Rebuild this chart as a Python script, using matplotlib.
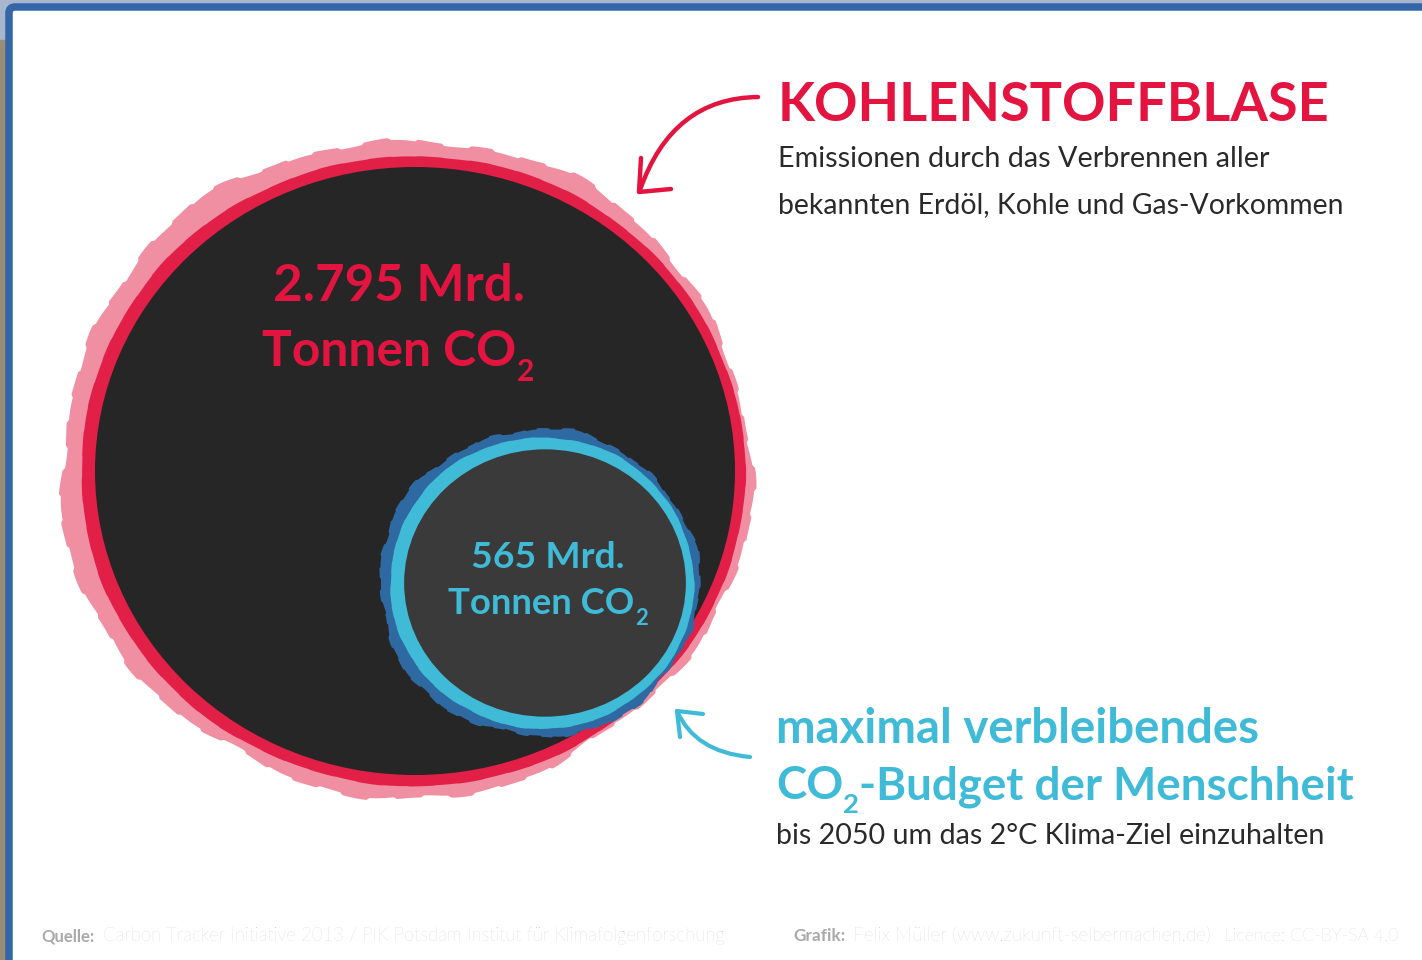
import numpy as np
import matplotlib
matplotlib.use("Agg")
import matplotlib.pyplot as plt
from matplotlib.patches import Ellipse, Polygon, Rectangle, FancyBboxPatch, PathPatch
from matplotlib.path import Path

plt.rcParams['font.family'] = ['Lato', 'DejaVu Sans']

# ---- data ----
values = [2795, 565]                      # Mrd. Tonnen CO2
value_labels = ["2.795 Mrd.", "565 Mrd."]
unit_main, unit_sub = "Tonnen CO", "2"
title = "KOHLENSTOFFBLASE"
subtitle_lines = ["Emissionen durch das Verbrennen aller",
                  "bekannten Erdöl, Kohle und Gas-Vorkommen"]
budget_line1 = "maximal verbleibendes"
budget_line2 = ["CO", "2", "-Budget der Menschheit"]
budget_sub = "bis 2050 um das 2°C Klima-Ziel einzuhalten"
source_head, source_text = "Quelle:", "Carbon Tracker Initiative 2013 / PIK Potsdam Institut für Klimafolgenforschung"
credit_head, credit_text = "Grafik:", "Felix Müller (www.zukunft-selbermachen.de)"
licence_text = "Licence: CC-BY-SA 4.0"

# ---- colours ----
RED = "#e3143f"
PINK = "#ef8fa1"
RING_RED = "#e11f47"
BLACK = "#262626"
GREY = "#3a3a3a"
CYAN = "#3fbad7"
BLUE = "#2e69a2"
DARK = "#2a2a2a"

W, H = 1422, 960
fig = plt.figure(figsize=(W / 100, H / 100), dpi=100)
ax = fig.add_axes([0, 0, 1, 1])
ax.set_xlim(0, W)
ax.set_ylim(H, 0)
ax.set_aspect('auto')
ax.axis('off')

# ---- frame ----
ax.add_patch(Rectangle((0, 0), W, H, color="#a7b6cc", zorder=0))
ax.add_patch(Rectangle((0, 40), 6, H, color="#9a8e78", zorder=0))
ax.add_patch(FancyBboxPatch((9, 7), W + 40, H + 40, boxstyle="round,pad=0,rounding_size=6",
                            facecolor="white", edgecolor="#3465a8", linewidth=5.4, zorder=1))

renderer = fig.canvas.get_renderer()
PX = 100 / 72  # px per pt


def runs_text(x, y, runs, width, ha='left', **kw):
    """runs: list of (string, size factor, drop in em)"""
    texts, ws = [], []
    for s, sf, dr in runs:
        t = ax.text(0, 0, s, fontsize=10 * sf, ha='left', va='baseline', **kw)
        texts.append(t)
        ws.append(t.get_window_extent(renderer=renderer).width)
    k = width / sum(ws)
    fs = 10 * k
    cur = x - width / 2 if ha == 'center' else x
    for t, (s, sf, dr), w in zip(texts, runs, ws):
        t.set_fontsize(fs * sf)
        t.set_position((cur, y + dr * fs * PX))
        cur += w * k
    return texts


def fit_text(x, y, s, width, ha='left', **kw):
    return runs_text(x, y, [(s, 1.0, 0.0)], width, ha=ha, **kw)


def rough(cx, cy, rx, ry, amp, phase, n=720):
    th = np.linspace(0, 2 * np.pi, n, endpoint=False)
    wob = (amp * (0.45 * np.sin(5 * th + phase) + 0.3 * np.sin(11 * th + 2 * phase)
                  + 0.2 * np.sin(23 * th + 0.7) + 0.15 * np.sign(np.sin(41 * th + phase))))
    x = cx + (rx + wob) * np.cos(th)
    y = cy + (ry + wob) * np.sin(th)
    return np.column_stack([x, y])


# ---- circles (areas proportional to the values) ----
squash = 0.95
R_big = 320
r_small = R_big * np.sqrt(values[1] / values[0])

bcx, bcy = 415, 471
ax.add_patch(Polygon(rough(bcx - 9, bcy - 3, R_big + 25, R_big * squash + 25, 7, 0.3),
                     closed=True, facecolor=PINK, edgecolor='none', zorder=2))
ax.add_patch(Polygon(rough(bcx - 2, bcy, R_big + 12, R_big * squash + 11, 1.2, 1.0),
                     closed=True, facecolor=RING_RED, edgecolor='none', zorder=3))
ax.add_patch(Ellipse((bcx, bcy), 2 * R_big, 2 * R_big * squash, facecolor=BLACK,
                     edgecolor='none', zorder=4))

scx, scy = 545, 583
ax.add_patch(Polygon(rough(scx - 6, scy, r_small + 16, r_small * squash + 17, 4, 2.0),
                     closed=True, facecolor=BLUE, edgecolor='none', zorder=5))
ax.add_patch(Polygon(rough(scx - 3, scy, r_small + 8, r_small * squash + 9, 1.0, 0.5),
                     closed=True, facecolor=CYAN, edgecolor='none', zorder=6))
ax.add_patch(Ellipse((scx, scy), 2 * r_small - 6, 2 * r_small * squash - 6, facecolor=GREY,
                     edgecolor='none', zorder=7))

# ---- circle labels ----
fit_text(399, 301, value_labels[0], 252, ha='center', color=RED, fontweight='bold', zorder=10)
runs_text(398, 366, [(unit_main, 1.0, 0.0), (unit_sub, 0.6, 0.3)], 272, ha='center',
          color=RED, fontweight='bold', zorder=10)
fit_text(548, 568, value_labels[1], 154, ha='center', color=CYAN, fontweight='bold', zorder=10)
runs_text(548, 614, [(unit_main, 1.0, 0.0), (unit_sub, 0.6, 0.3)], 200, ha='center',
          color=CYAN, fontweight='bold', zorder=10)

# ---- annotation texts ----
fit_text(778, 121, title, 552, color=RED, fontweight='bold', zorder=10)
fit_text(778, 167, subtitle_lines[0], 492, color=DARK, zorder=10)
fit_text(778, 213, subtitle_lines[1], 565, color=DARK, zorder=10)
fit_text(776, 743, budget_line1, 485, color=CYAN, fontweight='bold', zorder=10)
runs_text(776, 799, [(budget_line2[0], 1.0, 0.0), (budget_line2[1], 0.6, 0.3),
                     (budget_line2[2], 1.0, 0.0)], 580, color=CYAN, fontweight='bold', zorder=10)
fit_text(776, 844, budget_sub, 548, color=DARK, zorder=10)

# ---- arrows ----
red_arrow = Path([(758, 97), (672, 98), (640, 190)], [Path.MOVETO, Path.CURVE3, Path.CURVE3])
ax.add_patch(PathPatch(red_arrow, facecolor='none', edgecolor=RED, lw=3.2,
                       capstyle='round', zorder=10))
ax.plot([641, 639, 671], [158, 192, 189], color=RED, lw=3.2, solid_capstyle='round',
        solid_joinstyle='round', zorder=10)
cyan_arrow = Path([(750, 757), (695, 752), (677, 711)], [Path.MOVETO, Path.CURVE3, Path.CURVE3])
ax.add_patch(PathPatch(cyan_arrow, facecolor='none', edgecolor=CYAN, lw=3.0,
                       capstyle='round', zorder=10))
ax.plot([703, 677, 680], [714, 711, 737], color=CYAN, lw=3.0, solid_capstyle='round',
        solid_joinstyle='round', zorder=10)

# ---- footer ----
fit_text(41, 941, source_head, 54, color="#a9a9a9", fontweight='bold', zorder=10)
fit_text(103, 941, source_text, 622, color="#c4c4c4", fontweight='light', zorder=10)
fit_text(793, 941, credit_head, 52, color="#a9a9a9", fontweight='bold', zorder=10)
fit_text(853, 941, credit_text, 357, color="#c4c4c4", fontweight='light', zorder=10)
fit_text(1224, 941, licence_text, 174, color="#c4c4c4", fontweight='light', zorder=10)

fig.savefig("out.png", dpi=100, facecolor='white')
